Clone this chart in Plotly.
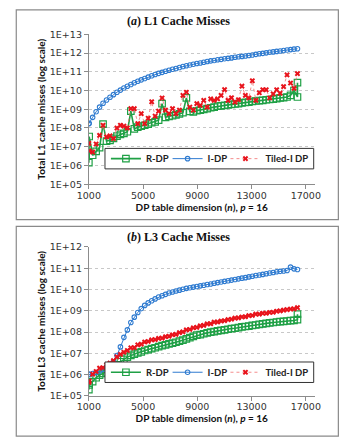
import plotly.graph_objects as go

# ---------------- data ----------------
n = [1000, 1024, 1280, 1536, 1792, 2048, 2304, 2560, 2816, 3072, 3328, 3584, 3840, 4096,
     4352, 4608, 4864, 5120, 5376, 5632, 5888, 6144, 6400, 6656, 6912, 7168, 7424, 7680,
     7936, 8192, 8448, 8704, 8960, 9216, 9472, 9728, 9984, 10240, 10496, 10752, 11008,
     11264, 11520, 11776, 12032, 12288, 12544, 12800, 13056, 13312, 13568, 13824, 14080,
     14336, 14592, 14848, 15104, 15360, 15616, 15872, 16128, 16384]

# R-DP has a second (repeated) measurement at the last dimension
n_rdp = n + [16384]

# (a) L1 cache misses
l1_rdp = [1.4e6, 3.5e7, 3.5e6, 5.6e6, 8.9e6, 1.6e8, 2.0e7, 2.2e7, 2.8e7, 3.7e7, 4.5e7, 5.2e7,
          6.3e7, 7.9e8, 8.9e7, 1.1e8, 1.26e8, 1.4e8, 1.6e8, 1.9e8, 2.1e8, 2.6e8, 2.0e9, 3.7e8,
          4.2e8, 4.5e8, 5.0e8, 5.6e8, 6.6e8, 4.0e9, 7.6e8, 7.2e8, 8.3e8, 8.9e8, 9.8e8, 1.07e9,
          1.2e9, 1.3e9, 1.45e9, 1.5e9, 1.6e9, 1.7e9, 1.8e9, 1.9e9, 2.0e9, 2.2e9, 2.3e9, 2.4e9,
          2.6e9, 2.75e9, 2.9e9, 3.0e9, 3.2e9, 3.3e9, 3.5e9, 3.7e9, 4.0e9, 4.2e9, 4.5e9, 5.5e9,
          1.0e10, 4.5e9, 2.6e10]
l1_idp = [1.7e8, 1.8e8, 3.7e8, 7.3e8, 1.3e9, 2.1e9, 3.1e9, 4.4e9, 6.0e9, 8.1e9, 1.05e10,
          1.35e10, 1.7e10, 2.1e10, 2.6e10, 3.1e10, 3.7e10, 4.4e10, 5.2e10, 6.1e10, 7.1e10,
          8.2e10, 9.3e10, 1.07e11, 1.2e11, 1.35e11, 1.5e11, 1.7e11, 1.9e11, 2.1e11, 2.3e11,
          2.5e11, 2.75e11, 2.95e11, 3.2e11, 3.5e11, 3.8e11, 4.0e11, 4.35e11, 4.6e11, 4.9e11,
          5.2e11, 5.5e11, 5.9e11, 6.3e11, 6.6e11, 6.9e11, 7.4e11, 7.9e11, 8.5e11, 9.1e11,
          9.6e11, 1.02e12, 1.09e12, 1.15e12, 1.22e12, 1.29e12, 1.37e12, 1.44e12, 1.52e12,
          1.61e12, 1.7e12]
l1_tiled = [1.5e7, 6.0e6, 5.1e6, 1.4e7, 4.0e7, 1.4e8, 3.3e7, 3.8e7, 2.7e7, 1.0e8, 1.4e8,
            1.26e8, 1.0e8, 1.07e9, 1.07e9, 1.7e8, 5.8e8, 1.7e8, 3.3e8, 2.5e9, 4.3e8, 7.9e8,
            4.0e9, 8.9e8, 5.8e8, 1.07e9, 5.8e8, 8.9e8, 5.5e9, 8.1e9, 1.3e9, 8.9e8, 2.0e9,
            1.6e9, 2.95e9, 1.3e9, 3.6e9, 2.95e9, 3.6e9, 5.5e9, 1.12e10, 2.95e9, 4.1e9, 2.4e9,
            3.2e9, 1.7e10, 5.5e9, 4.0e9, 3.3e10, 2.95e9, 7.6e9, 1.1e10, 1.1e10, 4.0e9, 6.6e9,
            1.1e10, 7.1e9, 1.6e10, 6.8e10, 2.5e10, 1.3e10, 7.9e10]

# (b) L3 cache misses
l3_rdp = [1.95e5, 3.3e5, 4.7e5, 7.1e5, 9.5e5, 1.15e6, 1.35e6, 1.58e6, 2.1e6, 2.9e6, 4.0e6,
          5.2e6, 6.6e6, 7.9e6, 9.1e6, 1.05e7, 1.17e7, 1.35e7, 1.5e7, 1.66e7, 1.82e7, 2.04e7,
          2.3e7, 2.5e7, 2.75e7, 3.0e7, 3.3e7, 3.7e7, 4.2e7, 4.8e7, 5.5e7, 6.3e7, 7.1e7, 7.6e7,
          8.3e7, 9.1e7, 9.8e7, 1.05e8, 1.12e8, 1.2e8, 1.26e8, 1.35e8, 1.45e8, 1.5e8, 1.62e8,
          1.74e8, 1.82e8, 1.9e8, 2.04e8, 2.14e8, 2.3e8, 2.4e8, 2.57e8, 2.7e8, 2.8e8, 2.95e8,
          3.1e8, 3.16e8, 3.3e8, 3.4e8, 3.5e8, 3.8e8, 6.9e8]
l3_idp = [1.07e6, 1.0e6, 1.12e6, 1.26e6, 1.48e6, 1.78e6, 2.14e6, 2.8e6, 4.0e6, 7.9e6, 2.0e7,
          5.6e7, 1.26e8, 2.8e8, 5.0e8, 8.3e8, 1.26e9, 1.78e9, 2.34e9, 2.95e9, 3.6e9, 4.4e9,
          5.1e9, 5.9e9, 6.8e9, 7.6e9, 8.5e9, 9.3e9, 1.02e10, 1.12e10, 1.2e10, 1.29e10,
          1.38e10, 1.48e10, 1.58e10, 1.7e10, 1.82e10, 1.95e10, 2.1e10, 2.24e10, 2.4e10,
          2.57e10, 2.75e10, 2.95e10, 3.16e10, 3.4e10, 3.6e10, 3.9e10, 4.2e10, 4.5e10, 4.8e10,
          5.1e10, 5.5e10, 5.9e10, 6.3e10, 6.8e10, 7.1e10, 7.4e10, 7.8e10, 1.12e11, 9.3e10,
          8.7e10]
l3_tiled = [4.3e5, 5.0e5, 1.05e6, 1.4e6, 2.0e6, 2.1e6, 2.8e6, 3.5e6, 4.5e6, 6.8e6, 8.9e6,
            1.12e7, 1.35e7, 1.8e7, 1.86e7, 2.5e7, 2.7e7, 3.4e7, 3.6e7, 4.3e7, 4.4e7, 5.0e7,
            5.2e7, 6.0e7, 6.3e7, 7.4e7, 7.8e7, 9.3e7, 1.02e8, 1.26e8, 1.32e8, 1.58e8, 1.66e8,
            1.95e8, 2.04e8, 2.4e8, 2.45e8, 2.9e8, 2.95e8, 3.3e8, 3.4e8, 3.8e8, 4.0e8, 4.5e8,
            4.6e8, 5.1e8, 5.2e8, 5.9e8, 6.0e8, 6.9e8, 6.9e8, 7.6e8, 7.6e8, 8.3e8, 8.5e8,
            9.5e8, 9.8e8, 1.07e9, 1.12e9, 1.2e9, 1.23e9, 1.4e9]

x_ticks = [1000, 5000, 9000, 13000, 17000]
l1_ytick_exp = [5, 6, 7, 8, 9, 10, 11, 12, 13]
l3_ytick_exp = [5, 6, 7, 8, 9, 10, 11, 12]
series_names = ["R-DP", "I-DP", "Tiled-I DP"]
titles = ["<b>(<i>a</i>) L1 Cache Misses</b>", "<b>(<i>b</i>) L3 Cache Misses</b>"]
y_titles = ["Total L1 cache misses (log scale)", "Total L3 cache misses (log scale)"]
x_title = "DP table dimension (<i>n</i>), <i>p</i> = 16"

# ---------------- styling ----------------
W, H = 351, 446
GREEN = "#1fa045"
BLUE = "#2f7bd0"
RED = "#e8141c"
TICK_FONT = dict(family="DejaVu Sans", size=9.5, color="#333333")
TITLE_FONT = dict(family="Lato", size=10, color="#111111")

def px_x(p):
    return p / W

def px_y(p):
    return 1 - p / H

fig = go.Figure()

panels = [
    dict(xa="x", ya="y", legs=["legend", "legend2", "legend3"], rdp=l1_rdp, idp=l1_idp,
         tiled=l1_tiled, exps=l1_ytick_exp, top=29, bot=182.7, leg_top=146, leg_bot=167),
    dict(xa="x2", ya="y2", legs=["legend4", "legend5", "legend6"], rdp=l3_rdp, idp=l3_idp,
         tiled=l3_tiled, exps=l3_ytick_exp, top=247, bot=399.7, leg_top=365, leg_bot=386),
]

for i, p in enumerate(panels):
    fig.add_trace(go.Scatter(x=n_rdp, y=p["rdp"], name=series_names[0], mode="lines+markers",
                             line=dict(color=GREEN, width=1.6),
                             marker=dict(symbol="square-open", size=6.5, color=GREEN,
                                         line=dict(width=1.2)),
                             xaxis=p["xa"], yaxis=p["ya"], legend=p["legs"][0]))
    fig.add_trace(go.Scatter(x=n, y=p["idp"], name=series_names[1], mode="lines+markers",
                             line=dict(color=BLUE, width=1),
                             marker=dict(symbol="circle-open", size=4.5, color=BLUE,
                                         line=dict(width=1.1)),
                             xaxis=p["xa"], yaxis=p["ya"], legend=p["legs"][1]))
    fig.add_trace(go.Scatter(x=n, y=p["tiled"], name=series_names[2], mode="lines+markers",
                             line=dict(color="#f07070", width=0.8, dash="dot"),
                             marker=dict(symbol="x", size=5, color=RED,
                                         line=dict(width=0)),
                             xaxis=p["xa"], yaxis=p["ya"], legend=p["legs"][2]))

axis_common = dict(showline=True, linecolor="#8c8c8c", linewidth=1, ticks="outside",
                   ticklen=4, tickcolor="#8c8c8c", tickfont=TICK_FONT, zeroline=False)

for i, p in enumerate(panels):
    suffix = "" if i == 0 else "2"
    fig.update_layout(**{
        "xaxis" + suffix: dict(axis_common, range=[1000, 17650], tickvals=x_ticks,
                               ticktext=[str(v) for v in x_ticks], showgrid=False,
                               domain=[px_x(81), px_x(319)], anchor="y" + suffix,
                               ticklabelstandoff=-2,
                               title=dict(text="<b>" + x_title + "</b>", font=TITLE_FONT,
                                          standoff=1)),
        "yaxis" + suffix: dict(axis_common, type="log",
                               range=[p["exps"][0], p["exps"][-1]],
                               tickvals=[10 ** e for e in p["exps"]],
                               ticktext=["1E+%02d" % e for e in p["exps"]],
                               showgrid=True, gridcolor="#c8c8c8", griddash="dot",
                               gridwidth=1,
                               domain=[px_y(p["bot"]), px_y(p["top"])],
                               anchor="x" + suffix,
                               title=dict(text="<b>" + y_titles[i] + "</b>",
                                          font=dict(TITLE_FONT, size=10), standoff=2)),
    })

# one legend per series so the entries can sit tightly side by side in a shared box
legend_common = dict(orientation="h", bgcolor="rgba(0,0,0,0)", borderwidth=0,
                     font=dict(family="Lato", size=9.5, color="#222222", weight="bold"),
                     itemwidth=30, xanchor="left", yanchor="middle")
legend_x = [99, 164, 225]
layout_legends = {}
for p in panels:
    yc = px_y((p["leg_top"] + p["leg_bot"]) / 2)
    for name, lx in zip(p["legs"], legend_x):
        layout_legends[name] = dict(legend_common, x=px_x(lx), y=yc)
    fig.add_shape(type="rect", xref="paper", yref="paper", layer="above",
                  x0=px_x(98), x1=px_x(318), y0=px_y(p["leg_bot"]), y1=px_y(p["leg_top"]),
                  line=dict(color="#333333", width=1), fillcolor="white")
fig.update_layout(**layout_legends)

# panel frames and titles
for top, bot, t, ty in [(4, 219, titles[0], 15), (226, 441, titles[1], 237)]:
    fig.add_shape(type="rect", xref="paper", yref="paper",
                  x0=px_x(4.5), x1=px_x(344), y0=px_y(bot), y1=px_y(top),
                  line=dict(color="#8a8a8a", width=1.2), fillcolor="rgba(0,0,0,0)")
    fig.add_annotation(text=t, xref="paper", yref="paper", x=px_x(175), y=px_y(ty),
                       showarrow=False, xanchor="center", yanchor="middle",
                       font=dict(family="Liberation Serif", size=12, color="#111111"))

fig.update_layout(width=W, height=H, margin=dict(l=0, r=0, t=0, b=0),
                  paper_bgcolor="white", plot_bgcolor="white", showlegend=True)

fig.write_html("out.html", include_plotlyjs=True, config={"displayModeBar": False})
